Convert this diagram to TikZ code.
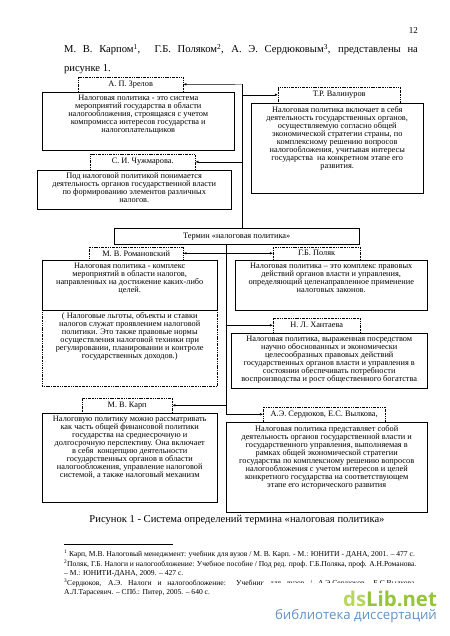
\documentclass[tikz,border=0pt]{standalone}
\usepackage{fontspec}
\setmainfont{Liberation Serif}
\newfontfamily\wmfont{Open Sans}
\usetikzlibrary{arrows.meta}
\newcommand\pxu{1.323pt}
\newcommand\boxfont{\fontsize{11}{10.6}\selectfont}
\newcommand\bodyfont{\fontsize{14}{14}\selectfont}
\newcommand\notefont{\fontsize{10}{10}\selectfont}
\definecolor{wmgreen}{HTML}{96C43C}
\definecolor{wmlight}{HTML}{B9D65E}
\definecolor{wmblue}{HTML}{5E93CB}
\tikzset{
  defbox/.style={draw, line width=0.6pt, inner sep=0pt, anchor=north west},
  dotbox/.style={defbox, dash pattern=on 0.6pt off 1.2pt on 1.8pt off 1.2pt},
  authbox/.style={draw, line width=0.5pt, dash pattern=on 0.6pt off 1.2pt on 1.8pt off 1.2pt,
    inner sep=0pt, anchor=south west, font=\boxfont},
  deftext/.style={inner sep=0pt, align=center, anchor=north, font=\boxfont},
  link/.style={line width=0.6pt, -{Latex[length=4pt,width=3.2pt]}},
  trunk/.style={line width=0.6pt},
}
\begin{document}
\begin{tikzpicture}[x=1.323pt, y=-1.323pt]
\useasboundingbox (0,0) rectangle (450,636);
% page text
\node[anchor=base east, inner sep=0pt, font=\fontsize{12}{12}\selectfont] (pagenum) at (418,34) {12};
\node[anchor=base west, inner sep=0pt, font=\bodyfont] (intro) at (64,53)
  {\makebox[468pt][s]{М. В. Карпом\textsuperscript{1}, \ Г.Б. Поляком\textsuperscript{2}, А. Э. Сердюковым\textsuperscript{3}, представлены на}};
\node[anchor=base west, inner sep=0pt, font=\bodyfont] (intro2) at (64,72) {рисунке 1.};

% upper group
\node[authbox, minimum width=105*\pxu, minimum height=15*\pxu] (zrelovL) at (78,92) {А. П. Зрелов};
\node[defbox, minimum width=192*\pxu, minimum height=58*\pxu] (zrelov) at (42,92) {};
\node[deftext] (zrelovT) at ([yshift=-3*\pxu]zrelov.north)
  {Налоговая политика - это система\\мероприятий государства в области\\налогообложения, строящаяся с учетом\\компромисса интересов государства и\\налогоплательщиков};

\node[authbox, minimum width=122*\pxu, minimum height=16*\pxu] (valinL) at (278,103) {Т.Р. Валинуров};
\node[defbox, minimum width=172*\pxu, minimum height=90*\pxu] (valin) at (251,103) {};
\node[deftext] (valinT) at ([yshift=-3*\pxu]valin.north)
  {Налоговая политика включает в себя\\деятельность государственных органов,\\осуществляемую согласно общей\\экономической стратегии страны, по\\комплексному решению вопросов\\налогообложения, учитывая интересы\\государства \ на конкретном этапе его\\развития.};

\node[authbox, minimum width=105*\pxu, minimum height=16*\pxu] (chuzhL) at (90,170) {С. И. Чужмарова.};
\node[defbox, minimum width=194*\pxu, minimum height=39*\pxu] (chuzh) at (37,170) {};
\node[deftext] (chuzhT) at ([yshift=-3*\pxu]chuzh.north)
  {Под налоговой политикой понимается\\деятельность органов государственной власти\\по формированию элементов различных\\налогов.};

\node[defbox, minimum width=245*\pxu, minimum height=16*\pxu, font=\boxfont] (termin) at (114,228) {Термин «налоговая политика»};

% lower group
\node[authbox, minimum width=94*\pxu, minimum height=13*\pxu] (romanL) at (89,260) {М. В. Романовский};
\node[defbox, minimum width=175*\pxu, minimum height=50*\pxu] (roman) at (42,260) {};
\node[deftext] (romanT) at ([yshift=-3*\pxu]roman.north)
  {Налоговая политика - комплекс\\мероприятий в области налогов,\\направленных на достижение каких-либо\\целей.};
\node[dotbox, minimum width=175*\pxu, minimum height=76*\pxu] (romanX) at (42,310) {};
\node[deftext] (romanXT) at ([yshift=-2*\pxu]romanX.north)
  {( Налоговые льготы, объекты и ставки\\налогов служат проявлением налоговой\\политики. Это также правовые нормы\\осуществления налоговой техники при\\регулировании, планировании и контроле\\государственных доходов.)};

\node[authbox, minimum width=87*\pxu, minimum height=13*\pxu] (polyakL) at (273,260) {Г.Б. Поляк};
\node[defbox, minimum width=192*\pxu, minimum height=50*\pxu] (polyak) at (235,260) {};
\node[deftext] (polyakT) at ([yshift=-3*\pxu]polyak.north)
  {Налоговая политика -- это комплекс правовых\\действий органов власти и управления,\\определяющий целенаправленное применение\\налоговых законов.};

\node[authbox, minimum width=87*\pxu, minimum height=15*\pxu] (khantL) at (273,333) {Н. Л. Хантаева};
\node[defbox, minimum width=196*\pxu, minimum height=55*\pxu] (khant) at (231,333) {};
\node[deftext] (khantT) at ([yshift=-3*\pxu]khant.north)
  {Налоговая политика, выраженная посредством\\научно обоснованных и экономически\\целесообразных правовых действий\\государственных органов власти и управления в\\состоянии обеспечивать потребности\\воспроизводства и рост общественного богатства};

\node[authbox, minimum width=90*\pxu, minimum height=15*\pxu] (karpL) at (82,413) {М. В. Карп};
\node[defbox, minimum width=175*\pxu, minimum height=89*\pxu] (karp) at (42,413) {};
\node[deftext] (karpT) at ([yshift=-3*\pxu]karp.north)
  {Налоговую политику можно рассматривать\\как часть общей финансовой политики\\государства на среднесрочную и\\долгосрочную перспективу. Она включает\\в себя \ концепцию деятельности\\государственных органов в области\\налогообложения, управление налоговой\\системой, а также налоговый механизм};

\node[authbox, minimum width=122*\pxu, minimum height=15*\pxu] (serdL) at (263,422) {А.Э. Сердюков, Е.С. Вылкова,};
\node[defbox, minimum width=201*\pxu, minimum height=90*\pxu] (serd) at (226,422) {};
\node[deftext] (serdT) at ([yshift=-3*\pxu]serd.north)
  {Налоговая политика представляет собой\\деятельность органов государственной власти и\\государственного управления, выполняемая в\\рамках общей экономической стратегии\\государства по комплексному решению вопросов\\налогообложения с учетом интересов и целей\\конкретного государства на соответствующем\\этапе его исторического развития};

% connectors
\coordinate (upT) at (242,84.5);
\coordinate (loT) at (226,244);
\draw[trunk] (upT) -- (upT |- termin.north);
\draw[link] (upT) -- (zrelovL.east);
\draw[link] (upT |- valinL.west) -- (valinL.west);
\draw[link] (upT |- chuzhL.east) -- (chuzhL.east);
\draw[link] (loT) -- (loT |- serdL.west) -- (serdL.west);
\draw[link] (loT |- khantL.west) -- (khantL.west);
\draw[link] (loT |- karpL.east) -- (karpL.east);
\draw[link, {Latex[length=4pt,width=3.2pt]}-{Latex[length=4pt,width=3.2pt]}] (romanL.east) -- (polyakL.west);

\node[anchor=base, inner sep=0pt, font=\bodyfont] (caption) at (237,522)
  {Рисунок 1 - Система определений термина «налоговая политика»};

% footnotes
\draw[line width=0.5pt] (64,544) -- (173,544);
\begin{scope}[every node/.style={anchor=base west, inner sep=0pt, font=\notefont}]
\node (fn1) at (64,556) {\textsuperscript{1} Карп, М.В. Налоговый менеджмент: учебник для вузов / М. В. Карп. - М.: ЮНИТИ - ДАНА, 2001. -- 477 с.};
\node (fn2) at (64,566) {\textsuperscript{2}Поляк, Г.Б. Налоги и налогообложение: Учебное пособие / Под ред. проф. Г.Б.Поляка, проф. А.Н.Романова.};
\node (fn2b) at (64,575) {-- М.: ЮНИТИ-ДАНА, 2009. -- 427 с.};
\node (fn3) at (64,585) {\makebox[466pt][s]{\textsuperscript{3}Сердюков, А.Э. Налоги и налогообложение: Учебник для вузов / А.Э.Сердюков, Е.С.Вылкова,}};
\node (fn3b) at (64,594) {А.Л.Тарасевич. -- СПб.: Питер, 2005. -- 640 с.};
\end{scope}

% watermark
\fill[white] (262,582.5) rectangle (445,628);
\node[anchor=base east, inner sep=0pt] (wmlogo) at (437,606)
  {\resizebox{124pt}{!}{\wmfont\bfseries\textcolor{wmlight}{ds}\textcolor{wmgreen}{Lib.net}}};
\node[anchor=base east, inner sep=0pt] (wmsub) at (437,619)
  {\resizebox{214pt}{!}{\wmfont\textcolor{wmblue}{библиотека диссертаций}}};
\end{tikzpicture}
\end{document}
